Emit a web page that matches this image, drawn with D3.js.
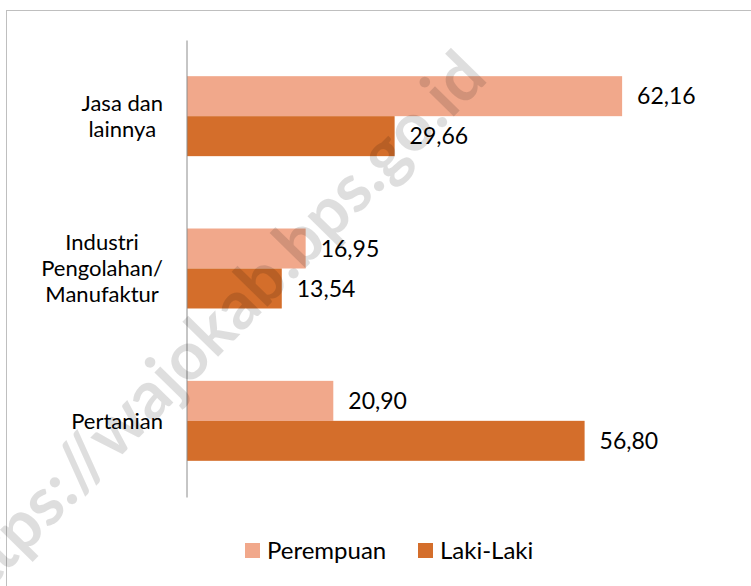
<!DOCTYPE html>
<html>
<head>
<meta charset="utf-8">
<script src="https://cdn.jsdelivr.net/npm/d3@7"></script>
<style>
  body { margin: 0; background: #fff; }
  svg text { font-family: Lato, "Open Sans", sans-serif; }
</style>
</head>
<body>
<div id="chart-area"></div>
<script>
// data
var categories = ["Jasa dan lainnya", "Industri Pengolahan/ Manufaktur", "Pertanian"];
var categoryLines = [["Jasa dan", "lainnya"], ["Industri", "Pengolahan/", "Manufaktur"], ["Pertanian"]];
var seriesNames = ["Perempuan", "Laki-Laki"];
var perempuan = [62.16, 16.95, 20.90];
var lakiLaki = [29.66, 13.54, 56.80];
var colors = ["#F1A88B", "#D46E2B"];
var watermark = "https://wajokab.bps.go.id";

var W = 751, H = 586;

var svg = d3.select("#chart-area")
  .append("svg")
    .attr("width", W)
    .attr("height", H);

// outer border of the chart area
svg.append("rect")
  .attr("x", 6.5).attr("y", 10.5)
  .attr("width", W + 20).attr("height", H + 20)
  .attr("fill", "none")
  .attr("stroke", "#bfbfbf");

var x = d3.scaleLinear()
  .domain([0, 70])
  .range([187, 677]);

var y = d3.scaleBand()
  .domain(categories)
  .range([40, 497])
  .paddingInner(0.475)
  .paddingOuter(0.2375);

var ySub = d3.scaleBand()
  .domain(seriesNames)
  .range([0, y.bandwidth()]);

var rows = categories.map(function(c, i) {
  return { cat: c, lines: categoryLines[i], values: [perempuan[i], lakiLaki[i]] };
});

var groups = svg.selectAll(".grp")
  .data(rows)
  .enter().append("g")
    .attr("class", "grp")
    .attr("transform", function(d) { return "translate(0," + y(d.cat) + ")"; });

groups.selectAll("rect")
  .data(function(d) {
    return d.values.map(function(v, j) { return { name: seriesNames[j], value: v, j: j }; });
  })
  .enter().append("rect")
    .attr("x", x(0))
    .attr("y", function(d) { return ySub(d.name); })
    .attr("width", function(d) { return x(d.value) - x(0); })
    .attr("height", ySub.bandwidth())
    .attr("fill", function(d) { return colors[d.j]; });

// value labels
groups.selectAll(".val")
  .data(function(d) {
    return d.values.map(function(v, j) { return { name: seriesNames[j], value: v }; });
  })
  .enter().append("text")
    .attr("class", "val")
    .attr("x", function(d) { return x(d.value) + 15; })
    .attr("y", function(d) { return ySub(d.name) + ySub.bandwidth() / 2; })
    .attr("dy", "0.36em")
    .attr("font-size", "23px")
    .attr("fill", "#000")
    .text(function(d) { return d3.format(".2f")(d.value).replace(".", ","); });

// y axis line
var yAxisCall = d3.axisLeft(y).tickSize(0).tickSizeOuter(0).tickFormat("");
var yAxisGroup = svg.append("g")
  .attr("transform", "translate(" + (x(0) - 0.5) + ",0)")
  .call(yAxisCall);
yAxisGroup.select(".domain").attr("stroke", "#8c8c8c");

// category labels: lines centred, block right aligned
var labelRight = 163, lineH = 26;
rows.forEach(function(r) {
  var g = svg.append("g");
  var cy = y(r.cat) + y.bandwidth() / 2;
  var n = r.lines.length;
  var texts = r.lines.map(function(l, k) {
    return g.append("text")
      .attr("y", cy + (k - (n - 1) / 2) * lineH)
      .attr("dy", "0.36em")
      .attr("font-size", "22px")
      .attr("text-anchor", "middle")
      .text(l);
  });
  var maxW = d3.max(texts, function(t) { return t.node().getComputedTextLength(); });
  texts.forEach(function(t) { t.attr("x", labelRight - maxW / 2); });
});

// legend
var legendX = [245, 418];
var legend = svg.selectAll(".legend")
  .data(seriesNames)
  .enter().append("g")
    .attr("class", "legend")
    .attr("transform", function(d, i) { return "translate(" + legendX[i] + ",543)"; });

legend.append("rect")
  .attr("width", 15).attr("height", 15)
  .attr("fill", function(d, i) { return colors[i]; });

legend.append("text")
  .attr("x", 22).attr("y", 7.5)
  .attr("dy", "0.36em")
  .attr("font-size", "24px")
  .text(function(d) { return d; });

// watermark: size and place it so the ":" and the "." before "go" land where they sit in the picture
var wm = svg.append("text")
  .attr("font-size", "100px")
  .attr("font-weight", "bold")
  .attr("fill", "#000")
  .attr("fill-opacity", 0.13)
  .text(watermark);
var node = wm.node();
function charMid(i) {
  var e = node.getExtentOfChar(i);
  return e.x + e.width / 2;
}
var colonPos = [73, 500], dotPos = [380, 187];
var ang = Math.atan2(dotPos[1] - colonPos[1], dotPos[0] - colonPos[0]);
var dist = Math.hypot(dotPos[0] - colonPos[0], dotPos[1] - colonPos[1]);
var iColon = watermark.indexOf(":"), iDot = watermark.indexOf(".go");
var fs = 100 * dist / (charMid(iDot) - charMid(iColon));
wm.attr("font-size", fs + "px");
var localDot = charMid(iDot);
var off = -0.05 * fs;
var cosA = Math.cos(ang), sinA = Math.sin(ang);
var tx = dotPos[0] - (localDot * cosA - off * sinA);
var ty = dotPos[1] - (localDot * sinA + off * cosA);
wm.attr("transform", "translate(" + tx + "," + ty + ") rotate(" + (ang * 180 / Math.PI) + ")");
</script>
</body>
</html>
